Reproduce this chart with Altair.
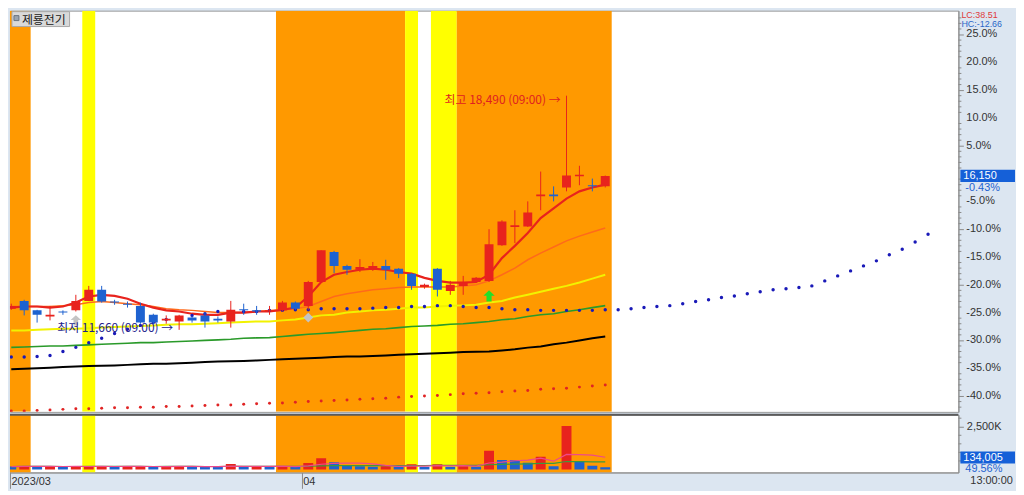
import altair as alt
import pandas as pd

# ---------------- data (percent vs. base price 16,220) ----------------
candle_open = [-24.3, -22.9, -24.6, -25.7, -24.8, -24.6, -22.9, -20.9, -23.0, -23.4,
               -23.8, -25.4, -26.4, -26.6, -25.9, -25.5, -26.1, -26.6, -24.4, -24.6,
               -24.8, -24.6, -23.2, -23.8, -19.5, -14.1, -16.6, -17.3, -17.1, -16.6,
               -17.1, -18.0, -20.4, -17.1, -21.1, -20.2, -19.5, -19.3, -12.9, -9.6,
               -9.5, -4.1, -3.75, -2.5, -0.5, -2.1, -2.3]
candle_high = [-23.4, -22.7, -24.5, -23.8, -24.6, -21.8, -20.2, -20.2, -22.7, -23.0,
               -23.2, -25.2, -25.5, -25.4, -25.7, -25.0, -25.7, -22.9, -23.4, -23.8,
               -23.8, -22.9, -23.0, -19.3, -13.8, -13.9, -16.4, -15.4, -15.9, -15.5,
               -17.0, -17.9, -19.8, -17.0, -19.3, -18.4, -18.6, -10.0, -8.4, -6.6,
               -5.0, 0.36, -2.3, 14.0, 1.4, -0.9, -0.36]
candle_low = [-24.5, -25.5, -26.8, -26.4, -25.4, -24.8, -22.9, -23.2, -23.6, -24.1,
              -27.0, -27.1, -27.0, -28.1, -26.8, -27.7, -26.8, -27.7, -25.4, -25.4,
              -25.4, -24.8, -24.5, -24.5, -19.6, -17.9, -18.2, -17.7, -17.5, -19.1,
              -18.8, -20.9, -20.7, -22.1, -21.8, -21.8, -19.6, -19.5, -13.0, -12.5,
              -9.6, -6.6, -5.0, -3.2, -2.1, -3.2, -2.5]
candle_close = [-23.8, -24.6, -25.4, -25.4, -25.0, -22.9, -20.9, -23.0, -23.2, -23.6,
                -26.8, -26.8, -26.1, -25.5, -26.4, -26.6, -26.4, -24.5, -24.6, -24.8,
                -24.6, -23.2, -24.3, -19.5, -13.8, -16.6, -17.3, -16.8, -16.6, -17.3,
                -18.0, -20.2, -20.0, -20.9, -20.0, -19.6, -18.75, -12.7, -8.6, -9.3,
                -7.0, -3.75, -4.1, -0.36, -0.2, -2.3, -0.43]

ma5 = [-24.1, -23.9, -23.9, -24.1, -23.9, -23.2, -22.1, -21.8, -22.0, -22.5,
       -23.4, -24.1, -24.6, -24.8, -25.2, -25.4, -25.4, -25.0, -25.0, -24.8,
       -24.8, -24.5, -24.1, -22.1, -19.5, -18.2, -17.7, -17.3, -17.1, -17.3,
       -17.7, -18.0, -18.75, -19.3, -19.6, -19.6, -19.5, -18.2, -15.2, -13.0,
       -10.7, -8.0, -6.25, -4.5, -3.2, -2.5, -2.0]
ma10 = [-23.9, -23.9, -23.9, -23.9, -23.75, -23.6, -23.2, -23.0, -23.2, -23.4,
        -23.6, -23.9, -24.3, -24.5, -24.6, -24.8, -25.0, -25.0, -25.0, -24.8,
        -24.6, -24.5, -24.3, -23.9, -23.0, -22.1, -21.6, -21.25, -20.9, -20.7,
        -20.5, -20.4, -20.4, -20.4, -20.4, -20.2, -20.0, -19.3, -18.2, -17.0,
        -15.5, -14.3, -13.2, -12.1, -11.25, -10.5, -9.8]
ma20 = [-28.2, -28.2, -28.1, -28.0, -27.9, -27.9, -27.8, -27.7, -27.6, -27.5,
        -27.4, -27.3, -27.2, -27.1, -27.1, -27.0, -26.9, -26.8, -26.7, -26.6,
        -26.6, -26.4, -26.25, -25.9, -25.5, -25.4, -25.0, -24.8, -24.6, -24.5,
        -24.3, -24.1, -24.1, -23.9, -23.75, -23.7, -23.6, -23.2, -22.9, -22.3,
        -21.8, -21.25, -20.7, -20.2, -19.6, -18.9, -18.2]
ma60 = [-31.25, -31.2, -31.1, -31.0, -31.0, -30.9, -30.8, -30.7, -30.6, -30.5,
        -30.4, -30.4, -30.3, -30.2, -30.1, -30.0, -29.9, -29.8, -29.6, -29.55,
        -29.5, -29.3, -29.1, -28.9, -28.75, -28.6, -28.4, -28.2, -28.0, -27.9,
        -27.7, -27.5, -27.4, -27.3, -27.1, -27.0, -26.8, -26.6, -26.3, -26.1,
        -25.7, -25.4, -25.2, -24.8, -24.5, -24.1, -23.75]
ma120 = [-35.2, -35.1, -35.0, -34.9, -34.8, -34.7, -34.6, -34.55, -34.5, -34.4,
         -34.3, -34.2, -34.2, -34.1, -34.0, -33.9, -33.8, -33.75, -33.7, -33.6,
         -33.5, -33.4, -33.3, -33.2, -33.1, -33.0, -32.9, -32.9, -32.8, -32.7,
         -32.6, -32.5, -32.4, -32.3, -32.2, -32.1, -32.05, -32.0, -31.8, -31.6,
         -31.3, -31.1, -30.7, -30.4, -30.0, -29.6, -29.3]
red_dots = [-42.7, -42.7, -42.6, -42.5, -42.4, -42.3, -42.3, -42.2, -42.1, -42.1,
            -42.0, -42.0, -41.9, -41.9, -41.8, -41.7, -41.6, -41.6, -41.5, -41.4,
            -41.3, -41.25, -41.1, -41.0, -40.9, -40.8, -40.7, -40.6, -40.5, -40.4,
            -40.2, -40.1, -40.0, -39.9, -39.75, -39.6, -39.5, -39.4, -39.25, -39.1,
            -39.0, -38.8, -38.7, -38.6, -38.4, -38.2, -38.0]
blue_dots = [-33.0, -33.0, -32.9, -32.7, -32.0, -31.25, -30.4, -29.6, -28.75, -28.0,
             -27.3, -26.8, -26.25, -25.9, -25.5, -25.2, -24.8, -24.8, -24.8, -24.8,
             -24.6, -24.6, -24.5, -24.5, -24.3, -24.3, -24.3, -24.3, -24.2, -24.1,
             -24.1, -23.9, -23.9, -23.75, -23.75, -23.9, -24.1, -24.1, -24.3, -24.5,
             -24.5, -24.6, -24.6, -24.6, -24.6, -24.6, -24.5, -24.5, -24.3, -24.1,
             -23.9, -23.75, -23.4, -23.0, -22.7, -22.3, -22.0, -21.6, -21.25, -20.9,
             -20.7, -20.5, -20.2, -19.3, -18.4, -17.5, -16.6, -15.7, -14.6, -13.6,
             -12.3, -10.9]
volume_k = [170, 200, 160, 190, 150, 180, 190, 200, 150, 170,
            190, 160, 180, 200, 170, 150, 140, 320, 150, 170,
            150, 190, 160, 380, 650, 430, 220, 190, 160, 190,
            160, 300, 160, 300, 160, 190, 160, 1090, 560, 550,
            390, 740, 190, 2550, 480, 220, 134]

band_start = [-0.5, 5.5, 20.5, 30.5, 32.5, 34.5]
band_end = [1.5, 6.5, 30.5, 31.5, 34.5, 46.5]
band_kind = ["orange", "yellow", "orange", "yellow", "yellow", "orange"]

signal_idx = [5, 23, 37]
signal_val = [-26.4, -25.9, -22.0]
signal_kind = ["gray_up", "gray_diamond", "green_up"]

note_idx = [13, 43]
note_val = [-28.1, 14.0]
note_kind = ["low", "high"]
note_text = ["최저 11,660 (09:00) →", "최고 18,490 (09:00) →"]

price_ticks = [-40, -35, -30, -25, -20, -15, -10, -5, 5, 10, 15, 20, 25]
price_minor = [v for v in range(-42, 29) if v % 5 != 0]
vol_ticks = [2500]
vol_minor = [500, 1000, 1500, 2000, 3000]
date_tick_pos = [-0.1, 22.5]
date_tick_text = ["2023/03", "04"]

# ---------------- frames ----------------
n = len(candle_open)
cdf = pd.DataFrame({
    "idx": list(range(n)), "open": candle_open, "high": candle_high,
    "low": candle_low, "close": candle_close, "ma5": ma5, "ma10": ma10,
    "ma20": ma20, "ma60": ma60, "ma120": ma120, "reddot": red_dots,
})
bdf = pd.DataFrame({"idx": list(range(len(blue_dots))), "val": blue_dots})
band_df = pd.DataFrame({"start": band_start, "end": band_end, "kind": band_kind})
sig_df = pd.DataFrame({"idx": signal_idx, "val": signal_val, "kind": signal_kind})
note_df = pd.DataFrame({"idx": note_idx, "val": note_val, "kind": note_kind, "label": note_text})
vdir = ["down"] + ["up" if volume_k[i] >= volume_k[i - 1] else "down" for i in range(1, n)]
vdf = pd.DataFrame({"idx": list(range(n)), "vol": volume_k, "zero": [0] * n, "vdir": vdir})
ptick_df = pd.DataFrame({"v": price_ticks, "label": [f"{v:.1f}%" for v in price_ticks]})
pminor_df = pd.DataFrame({"v": price_minor})
vminor_df = pd.DataFrame({"v": vol_minor})
one = pd.DataFrame({"a": [0]})

# ---------------- styling ----------------
RED = "#e8231d"
BLUE = "#1e62d0"
ORANGE = "#ff9900"
YELLOW = "#ffff00"
AXIS_BG = "#dce6f1"
BOX_BLUE = "#1560d8"
FONT = "Liberation Sans"
KFONT = "Noto Sans CJK KR"

W, H1, H2 = 955, 404, 58
XDOM = [-0.1, 73.35]
PDOM = [-42.85, 29.29]
VDOM = [-174, 3196]

xscale = alt.Scale(domain=XDOM, nice=False, zero=False, padding=0)


def X(field):
    return alt.X(field, type="quantitative", scale=xscale, axis=None, title=None)


date_expr = " : ".join(
    f"datum.value == {p} ? '{t}'" for p, t in zip(date_tick_pos, date_tick_text)
) + " : ''"
x_axis = alt.Axis(orient="bottom", values=date_tick_pos, labelExpr=date_expr, tickSize=16,
                  labelPadding=-13, labelAlign="left", labelOffset=1, labelFlush=False,
                  labelOverlap=False, labelBound=False, grid=False, domainColor="#8a8a8a",
                  tickColor="#8a8a8a", labelFont=FONT, labelFontSize=11, labelColor="#333333")


def XB(field):
    return alt.X(field, type="quantitative", scale=xscale, axis=x_axis, title=None)


price_axis = alt.Axis(orient="right", values=price_ticks, labels=False, tickSize=5,
                      grid=False, domainColor="#8a8a8a", tickColor="#8a8a8a")
pscale = alt.Scale(domain=PDOM, nice=False, zero=False, padding=0)


def YP(field):
    return alt.Y(field, type="quantitative", scale=pscale, axis=price_axis, title=None)


vol_axis = alt.Axis(orient="right", values=vol_ticks,
                    labelExpr="format(datum.value, ',') + 'K'", tickSize=5, labelPadding=3,
                    labelOverlap=False, labelFlush=False,
                    grid=False, domainColor="#8a8a8a", tickColor="#8a8a8a",
                    labelFont=FONT, labelFontSize=11, labelColor="#333333")
vscale = alt.Scale(domain=VDOM, nice=False, zero=False, padding=0)


def YV(field):
    return alt.Y(field, type="quantitative", scale=vscale, axis=vol_axis, title=None)


band_color = alt.condition("datum.kind == 'orange'", alt.value(ORANGE), alt.value(YELLOW))
candle_color = alt.condition("datum.close >= datum.open", alt.value(RED), alt.value(BLUE))

# ---------------- top (price) panel ----------------
bands_top = alt.Chart(band_df).mark_rect(clip=True).encode(x=X("start"), x2="end", color=band_color)
price_minor_ticks = alt.Chart(pminor_df).mark_rule(color="#8a8a8a", strokeWidth=1).encode(
    x=alt.value(W), x2=alt.value(W + 3), y=YP("v"))
price_labels = alt.Chart(ptick_df).mark_text(
    align="left", baseline="middle", font=FONT, fontSize=11, color="#333333").encode(
    x=alt.value(W + 8), y=YP("v"), text="label:N")

line_specs = [("ma120", "#000000", 2.0), ("ma60", "#2a9a2a", 1.6), ("ma20", "#f2f200", 2.0),
              ("ma10", "#ff6a1a", 1.5), ("ma5", "#e8231d", 2.2)]
lines = [alt.Chart(cdf).mark_line(color=c, strokeWidth=w, clip=True).encode(x=X("idx"), y=YP(f))
         for f, c, w in line_specs]

red_dot_layer = alt.Chart(cdf).mark_circle(color="#e02424", size=9, opacity=1, clip=True).encode(
    x=X("idx"), y=YP("reddot"))
blue_dot_layer = alt.Chart(bdf).mark_circle(color="#1a1ab8", size=12, opacity=1, clip=True).encode(
    x=X("idx"), y=YP("val"))

wicks = alt.Chart(cdf).mark_rule(strokeWidth=1, clip=True).encode(
    x=X("idx"), y=YP("low"), y2="high", color=candle_color)
bodies = alt.Chart(cdf).mark_bar(size=9, clip=True).encode(
    x=X("idx"), y=YP("open"), y2="close", color=candle_color)

UP_SHAPE = "M0,-1L1,-0.05L0.45,-0.05L0.45,1L-0.45,1L-0.45,-0.05L-1,-0.05Z"
sig_gray_up = alt.Chart(sig_df).transform_filter("datum.kind == 'gray_up'").mark_point(
    shape=UP_SHAPE, filled=True, color="#c4c4c4", size=110, opacity=1).encode(x=X("idx"), y=YP("val"))
sig_gray_dia = alt.Chart(sig_df).transform_filter("datum.kind == 'gray_diamond'").mark_point(
    shape="diamond", filled=True, color="#c4c4c4", size=100, opacity=1).encode(x=X("idx"), y=YP("val"))
sig_green = alt.Chart(sig_df).transform_filter("datum.kind == 'green_up'").mark_point(
    shape=UP_SHAPE, filled=True, color="#22e02a", size=130, opacity=1).encode(x=X("idx"), y=YP("val"))

low_note = alt.Chart(note_df).transform_filter("datum.kind == 'low'").mark_text(
    align="right", baseline="middle", dx=-6, dy=-2, font=KFONT, fontSize=12, color="#22228c").encode(
    x=X("idx"), y=YP("val"), text="label:N")
high_note = alt.Chart(note_df).transform_filter("datum.kind == 'high'").mark_text(
    align="right", baseline="middle", dx=-6, dy=4, font=KFONT, fontSize=12, color="#e02020").encode(
    x=X("idx"), y=YP("val"), text="label:N")

# title box
title_box = alt.Chart(one).mark_rect(fill="#d9d9d9", stroke="#a8a8a8", strokeWidth=1).encode(
    x=alt.value(2), x2=alt.value(60), y=alt.value(1), y2=alt.value(16))
title_icon = alt.Chart(one).mark_rect(fill="#9aa4b0", stroke="#6a7480", strokeWidth=1).encode(
    x=alt.value(4), x2=alt.value(9), y=alt.value(5), y2=alt.value(10))
title_text = alt.Chart(one).mark_text(align="left", baseline="middle", font=KFONT, fontSize=12,
                                      color="#1a1a1a", text="제룡전기").encode(
    x=alt.value(12), y=alt.value(9))

lc_text = alt.Chart(one).mark_text(align="left", baseline="top", font=FONT, fontSize=9,
                                   color="#e03a3a", text="LC:38.51").encode(
    x=alt.value(W + 3), y=alt.value(0))
hc_text = alt.Chart(one).mark_text(align="left", baseline="top", font=FONT, fontSize=9,
                                   color="#2a66c8", text="HC:-12.66").encode(
    x=alt.value(W + 3), y=alt.value(9))

last_pct = candle_close[-1]
cur_box = alt.Chart(one).mark_rect(fill=BOX_BLUE).encode(
    x=alt.value(W + 2), x2=alt.value(W + 57), y=alt.datum(last_pct + 1.1, scale=pscale),
    y2=alt.datum(last_pct - 1.1))
cur_text = alt.Chart(one).mark_text(align="left", baseline="middle", font=FONT, fontSize=11,
                                    color="white", text="16,150").encode(
    x=alt.value(W + 5), y=alt.datum(last_pct, scale=pscale))
cur_pct = alt.Chart(one).mark_text(align="left", baseline="middle", font=FONT, fontSize=11,
                                   color="#1e62d0", text="-0.43%", dy=12).encode(
    x=alt.value(W + 7), y=alt.datum(last_pct, scale=pscale))

top = alt.layer(
    bands_top, price_minor_ticks, price_labels, *lines, red_dot_layer, blue_dot_layer, wicks, bodies,
    sig_gray_up, sig_gray_dia, sig_green, low_note, high_note,
    title_box, title_icon, title_text, lc_text, hc_text, cur_box, cur_text, cur_pct,
).properties(width=W, height=H1)

# ---------------- bottom (volume) panel ----------------
bands_bot = alt.Chart(band_df).mark_rect(clip=True).encode(x=XB("start"), x2="end", color=band_color)
vol_color = alt.condition("datum.vdir == 'up'", alt.value(RED), alt.value(BLUE))
vol_bars = alt.Chart(vdf).mark_bar(size=10, clip=True).encode(
    x=XB("idx"), y=YV("vol"), y2="zero", color=vol_color)
vol_ma20 = alt.Chart(vdf).transform_window(
    vma="mean(vol)", frame=[-19, 0], sort=[alt.SortField("idx")]).mark_line(
    color="#3c9a3c", strokeWidth=1.2, clip=True).encode(x=XB("idx"), y=YV("vma:Q"))
vol_ma5 = alt.Chart(vdf).transform_window(
    vma="mean(vol)", frame=[-4, 0], sort=[alt.SortField("idx")]).mark_line(
    color="#ee4a8a", strokeWidth=1.2, clip=True).encode(x=XB("idx"), y=YV("vma:Q"))
vol_minor_ticks = alt.Chart(vminor_df).mark_rule(color="#8a8a8a", strokeWidth=1).encode(
    x=alt.value(W), x2=alt.value(W + 3), y=YV("v"))
sep_rule = alt.Chart(one).mark_rule(color="#5a5a5a", strokeWidth=2).encode(
    x=alt.value(0), x2=alt.value(W), y=alt.value(0))
vol_box = alt.Chart(one).mark_rect(fill=BOX_BLUE).encode(
    x=alt.value(W + 2), x2=alt.value(W + 57), y=alt.value(37), y2=alt.value(49))
vol_text = alt.Chart(one).mark_text(align="left", baseline="middle", font=FONT, fontSize=11,
                                    color="white", text="134,005").encode(
    x=alt.value(W + 5), y=alt.value(43))
vol_pct = alt.Chart(one).mark_text(align="left", baseline="middle", font=FONT, fontSize=11,
                                   color="#1e62d0", text="49.56%").encode(
    x=alt.value(W + 7), y=alt.value(55))
time_text = alt.Chart(one).mark_text(align="left", baseline="middle", font=FONT, fontSize=11,
                                     color="#333333", text="13:00:00").encode(
    x=alt.value(W + 12), y=alt.value(H2 + 9))

bottom = alt.layer(
    bands_bot, vol_bars, vol_ma20, vol_ma5, vol_minor_ticks, sep_rule,
    vol_box, vol_text, vol_pct, time_text,
).properties(width=W, height=H2)

chart = alt.vconcat(top, bottom, spacing=0).properties(
    padding={"left": 0, "top": 0, "right": 0, "bottom": 0}
).configure(background=AXIS_BG).configure_view(fill="white", stroke="#9a9a9a", strokeWidth=1)

chart.save("out.html", embed_options={"renderer": "svg", "actions": False})
